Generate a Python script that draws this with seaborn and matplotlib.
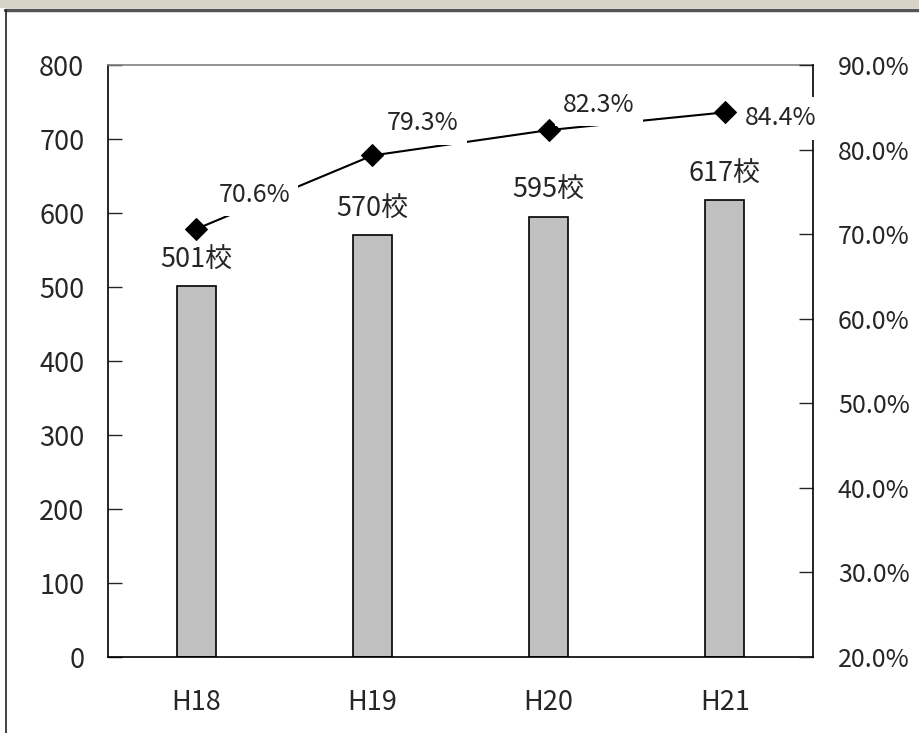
import matplotlib
matplotlib.use("Agg")
import matplotlib.pyplot as plt
import seaborn as sns
from matplotlib.patches import Rectangle
from matplotlib.lines import Line2D

# data
years = ["H18", "H19", "H20", "H21"]
schools = [501, 570, 595, 617]
rates = [70.6, 79.3, 82.3, 84.4]
school_labels = ["501校", "570校", "595校", "617校"]
rate_labels = ["70.6%", "79.3%", "82.3%", "84.4%"]
left_ticks = [0, 100, 200, 300, 400, 500, 600, 700, 800]
right_ticks = [20, 30, 40, 50, 60, 70, 80, 90]

sns.set_style("white")
plt.rcParams['font.family'] = ['Noto Sans CJK JP', 'DejaVu Sans']
FS = 19.5
FS_PCT = 18

fig = plt.figure(figsize=(9.19, 7.33), dpi=100)
W, H = 919, 733

# window frame decoration
fig.patches.append(Rectangle((0, 1 - 8 / H), 1, 8 / H, transform=fig.transFigure,
                             facecolor="#d6d3c9", edgecolor="none", zorder=0))
fig.lines.append(Line2D([5 / W, 1], [1 - 9.5 / H, 1 - 9.5 / H], transform=fig.transFigure,
                        color="#555555", lw=2.5))
fig.lines.append(Line2D([5.5 / W, 5.5 / W], [0, 1 - 10 / H], transform=fig.transFigure,
                        color="#222222", lw=1.2))

ax = fig.add_axes([108 / W, 76 / H, 705 / W, 592 / H])
sns.barplot(x=years, y=schools, ax=ax, width=0.22, color="#c0c0c0",
            edgecolor="black", linewidth=1.2, saturation=1)
ax.set_ylim(0, 800)
ax.set_xlim(-0.5, 3.5)
ax.set_yticks(left_ticks)
ax.tick_params(axis="y", direction="in", length=10, width=1, pad=17, labelsize=FS)
ax.set_xticks([0.5, 1.5, 2.5], minor=True)
ax.tick_params(axis="x", which="minor", direction="in", length=10, width=1)
ax.tick_params(axis="x", which="major", length=0, pad=23, labelsize=FS)
for s in ["left", "bottom"]:
    ax.spines[s].set_color("black")
    ax.spines[s].set_linewidth(1.2)
ax.spines["top"].set_color("#808080")
ax.spines["top"].set_linewidth(1.2)
ax.spines["right"].set_visible(False)
ax.set_xlabel("")
ax.set_ylabel("")

for i, v in enumerate(schools):
    ax.annotate(school_labels[i], (i, v), xytext=(0, 26), textcoords="offset pixels",
                ha="center", va="center", fontsize=FS)

ax2 = ax.twinx()
sns.lineplot(x=[0, 1, 2, 3], y=rates, ax=ax2, color="black", lw=1.5,
             marker="D", markersize=11, markeredgecolor="black")
ax2.set_ylim(20, 90)
ax2.set_yticks(right_ticks)
ax2.set_yticklabels([f"{t:.1f}%" for t in right_ticks])
ax2.tick_params(axis="y", direction="in", length=10, width=1, pad=18, labelsize=FS_PCT)
ax2.spines["right"].set_color("black")
ax2.spines["right"].set_linewidth(1.2)
for s in ["left", "top", "bottom"]:
    ax2.spines[s].set_visible(False)
ax2.set_ylabel("")

# labels sit on white boxes that hide the line (and the spine for the last one)
offsets = [(58, 34), (50, 32), (50, 25), (56, -6)]
for i, v in enumerate(rates):
    ax2.annotate(rate_labels[i], (i, v), xytext=offsets[i], textcoords="offset pixels",
                 ha="center", va="center", fontsize=FS_PCT, zorder=5,
                 bbox=dict(facecolor="white", edgecolor="none", pad=6))

fig.savefig("out.png", dpi=100)
